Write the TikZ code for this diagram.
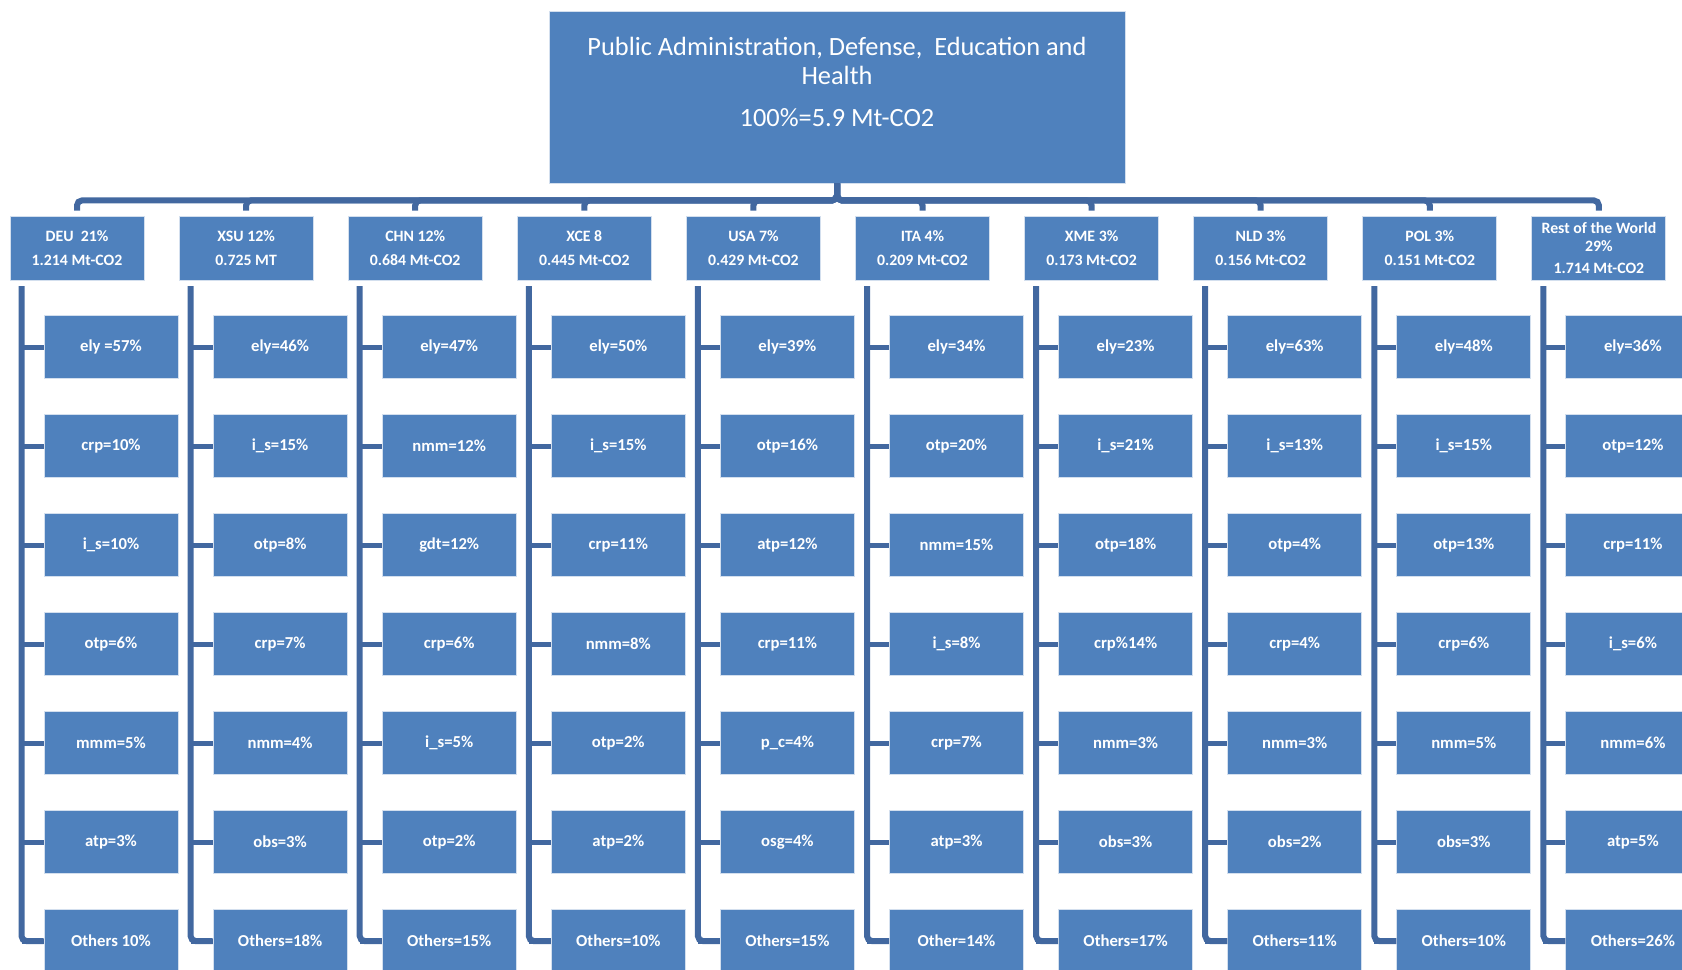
\documentclass[tikz,border=0pt]{standalone}
\usepackage{fontspec}
\setmainfont{Carlito}
\usetikzlibrary{positioning}

\definecolor{boxblue}{RGB}{79,129,189}
\definecolor{lineblue}{RGB}{66,104,160}

\begin{document}
\begin{tikzpicture}[x=0.2mm, y=-0.2mm,
box_style/.style={rectangle, fill=boxblue, draw=white!75!boxblue, line width=0.5pt, text=white, align=center, inner sep=0pt},
top_style/.style={box_style, minimum width=115.2mm, minimum height=34.4mm},
country_style/.style={box_style, minimum width=26.8mm, minimum height=12.8mm, font=\bfseries\fontsize{9}{10.5}\selectfont},
sector_style/.style={box_style, minimum width=26.8mm, minimum height=12.6mm, font=\bfseries\fontsize{9.5}{11}\selectfont},
link_style/.style={draw=lineblue, line width=1.2mm, rounded corners=1mm},
tick_style/.style={draw=lineblue, line width=1mm},
]

\useasboundingbox (0,0) rectangle (1682,970);
\clip (0,0) rectangle (1682,970);

\node[top_style] at (837,97) (top) {};
\node[text=white, align=center, font=\fontsize{15}{16.5}\selectfont] at (837,82) (toptext) {Public Administration, Defense,\ \ Education and\\Health\\[7.5pt]100\%=5.9 Mt-CO2};

\foreach \ctext/\slist [count=\i from 0] in {
  {DEU\ \ 21\%\\[3.5pt]1.214 Mt-CO2}/{ely =57\%,crp=10\%,i\_s=10\%,otp=6\%,mmm=5\%,atp=3\%,Others 10\%},
  {XSU 12\%\\[3.5pt]0.725 MT}/{ely=46\%,i\_s=15\%,otp=8\%,crp=7\%,nmm=4\%,obs=3\%,Others=18\%},
  {CHN 12\%\\[3.5pt]0.684 Mt-CO2}/{ely=47\%,nmm=12\%,gdt=12\%,crp=6\%,i\_s=5\%,otp=2\%,Others=15\%},
  {XCE 8\\[3.5pt]0.445 Mt-CO2}/{ely=50\%,i\_s=15\%,crp=11\%,nmm=8\%,otp=2\%,atp=2\%,Others=10\%},
  {USA 7\%\\[3.5pt]0.429 Mt-CO2}/{ely=39\%,otp=16\%,atp=12\%,crp=11\%,p\_c=4\%,osg=4\%,Others=15\%},
  {ITA 4\%\\[3.5pt]0.209 Mt-CO2}/{ely=34\%,otp=20\%,nmm=15\%,i\_s=8\%,crp=7\%,atp=3\%,Other=14\%},
  {XME 3\%\\[3.5pt]0.173 Mt-CO2}/{ely=23\%,i\_s=21\%,otp=18\%,crp\%14\%,nmm=3\%,obs=3\%,Others=17\%},
  {NLD 3\%\\[3.5pt]0.156 Mt-CO2}/{ely=63\%,i\_s=13\%,otp=4\%,crp=4\%,nmm=3\%,obs=2\%,Others=11\%},
  {POL 3\%\\[3.5pt]0.151 Mt-CO2}/{ely=48\%,i\_s=15\%,otp=13\%,crp=6\%,nmm=5\%,obs=3\%,Others=10\%},
  {Rest of the World\\29\%\\[2pt]1.714 Mt-CO2}/{ely=36\%,otp=12\%,crp=11\%,i\_s=6\%,nmm=6\%,atp=5\%,Others=26\%}}{
  \pgfmathsetmacro\cx{77+169.1*\i}
  \node[country_style] at (\cx,248) (c\i) {\ctext};
  \draw[link_style, shorten >=1mm] (top.south) -- ++(0,17) -| (c\i.north);
  \coordinate (sp\i) at (\cx-55.5,286);
  \foreach \s [count=\r] in \slist {
    \node[sector_style] at (\cx+34,248+99*\r) (s\i-\r) {\s};
    \draw[tick_style] (sp\i |- s\i-\r.west) -- (s\i-\r.west);
  }
  \draw[link_style] (sp\i) |- (s\i-7.west);
}

\end{tikzpicture}
\end{document}
